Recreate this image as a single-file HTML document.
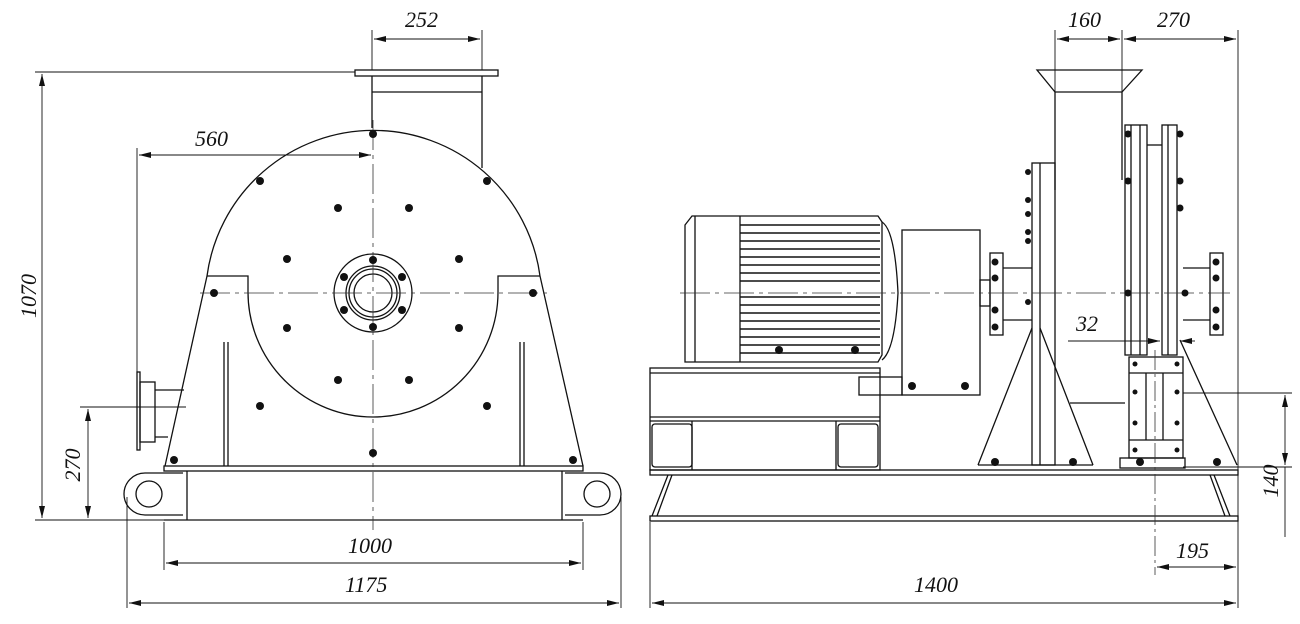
<!DOCTYPE html>
<html><head><meta charset="utf-8"><style>
html,body{margin:0;padding:0;background:#fff;width:1300px;height:624px;overflow:hidden}
text{font-family:"Liberation Serif",serif;font-style:italic;font-size:22px;fill:#111}
</style></head><body>
<svg width="1300" height="624" viewBox="0 0 1300 624" xmlns="http://www.w3.org/2000/svg">
<defs>
<marker id="a" viewBox="0 0 12 6" refX="12" refY="3" markerWidth="12" markerHeight="6" orient="auto-start-reverse" markerUnits="userSpaceOnUse"><path d="M0,0L12,3L0,6z" fill="#111"/></marker>
</defs>
<g fill="none" stroke="#111" stroke-width="1.3">
<rect x="355" y="70" width="143" height="6"/>
<line x1="372" y1="76" x2="372" y2="128"/><line x1="482" y1="76" x2="482" y2="168"/>
<line x1="372" y1="92" x2="482" y2="92"/>
<path d="M207,276 A168,168 0 0 1 540,276"/>
<path d="M207,276 L165,466 M540,276 L583,466"/>
<path d="M207,276 H248 V292 A124,124 0 0 0 498,292 V276 H540"/>
<line x1="224" y1="342" x2="224" y2="466"/><line x1="228" y1="342" x2="228" y2="466"/>
<line x1="520" y1="342" x2="520" y2="466"/><line x1="524" y1="342" x2="524" y2="466"/>
<rect x="164" y="466" width="419" height="5"/>
<line x1="187" y1="471" x2="187" y2="520"/><line x1="562" y1="471" x2="562" y2="520"/>
<line x1="164" y1="520" x2="583" y2="520"/>
<path d="M183,473 H145 A21,21 0 0 0 145,515 H183"/>
<path d="M565,473 H600 A21,21 0 0 1 600,515 H565"/>
<circle cx="149" cy="494" r="13"/><circle cx="597" cy="494" r="13"/>
<rect x="137" y="372" width="3" height="78"/>
<rect x="140" y="382" width="15" height="60"/>
<path d="M155,390 H184 M155,437 H168"/>
<circle cx="373" cy="293" r="39"/><circle cx="373" cy="293" r="27"/><circle cx="373" cy="293" r="24"/><circle cx="373" cy="293" r="19"/>
<path d="M685,225 L692,216 H878 L882,222 V355 L878,362 H685 Z"/>
<line x1="695" y1="216" x2="695" y2="362"/><line x1="740" y1="216" x2="740" y2="362"/>
<path d="M882,222 Q895,230 898,293 Q895,350 882,360"/>
<rect x="902" y="230" width="78" height="165"/>
<rect x="859" y="377" width="43" height="18"/>
<rect x="650" y="368" width="230" height="102"/>
<line x1="650" y1="373" x2="880" y2="373"/><line x1="650" y1="417" x2="880" y2="417"/><line x1="650" y1="421" x2="880" y2="421"/>
<rect x="652" y="424" width="40" height="43" rx="3"/><rect x="838" y="424" width="40" height="43" rx="3"/>
<line x1="692" y1="421" x2="692" y2="470"/><line x1="836" y1="421" x2="836" y2="470"/>
<rect x="650" y="470" width="588" height="5"/>
<rect x="650" y="516" width="588" height="5"/>
<path d="M652,516 L668,475 M657,516 L672,475 M1230,516 L1214,475 M1225,516 L1210,475"/>
<path d="M1037,70 H1142 L1122,92 H1055 Z"/>
<line x1="1055" y1="92" x2="1055" y2="190"/><line x1="1122" y1="92" x2="1122" y2="180"/>
<rect x="1032" y="163" width="23" height="302"/><line x1="1040" y1="163" x2="1040" y2="465"/>
<path d="M978,465 L1032,328 M1093,465 L1040,328 M1180,340 L1237,465"/>
<line x1="978" y1="465" x2="1093" y2="465"/>
<line x1="1070" y1="403" x2="1125" y2="403"/>
<rect x="1125" y="125" width="22" height="230"/><line x1="1131" y1="125" x2="1131" y2="355"/><line x1="1140" y1="125" x2="1140" y2="355"/>
<rect x="1162" y="125" width="15" height="230"/><line x1="1168" y1="125" x2="1168" y2="355"/>
<line x1="1147" y1="145" x2="1162" y2="145"/>
<rect x="1129" y="357" width="54" height="101"/>
<line x1="1129" y1="373" x2="1183" y2="373"/><line x1="1129" y1="440" x2="1183" y2="440"/>
<line x1="1146" y1="373" x2="1146" y2="440"/><line x1="1163" y1="373" x2="1163" y2="440"/>
<rect x="1120" y="458" width="65" height="10"/>
<rect x="990" y="253" width="13" height="82"/><rect x="1210" y="253" width="13" height="82"/>
<path d="M1003,268 H1032 M1003,320 H1032 M1183,268 H1210 M1183,320 H1210"/>
<rect x="980" y="280" width="10" height="26"/>
</g>
<g stroke="#111" stroke-width="1.6">
<line x1="740" y1="225" x2="880" y2="225"/><line x1="740" y1="233" x2="880" y2="233"/><line x1="740" y1="241" x2="880" y2="241"/><line x1="740" y1="249" x2="880" y2="249"/><line x1="740" y1="257" x2="880" y2="257"/><line x1="740" y1="265" x2="880" y2="265"/><line x1="740" y1="273" x2="880" y2="273"/><line x1="740" y1="281" x2="880" y2="281"/><line x1="740" y1="297" x2="880" y2="297"/><line x1="740" y1="305" x2="880" y2="305"/><line x1="740" y1="313" x2="880" y2="313"/><line x1="740" y1="321" x2="880" y2="321"/><line x1="740" y1="329" x2="880" y2="329"/><line x1="740" y1="337" x2="880" y2="337"/><line x1="740" y1="345" x2="880" y2="345"/><line x1="740" y1="353" x2="880" y2="353"/>
</g>
<g stroke="#333" stroke-width="0.8" fill="none">
<line x1="200" y1="293" x2="550" y2="293" stroke-dasharray="30,5,4,5"/>
<line x1="373" y1="120" x2="373" y2="530" stroke-dasharray="30,5,4,5"/>
<line x1="680" y1="293" x2="1230" y2="293" stroke-dasharray="30,5,4,5"/>
<line x1="1155" y1="350" x2="1155" y2="575" stroke-dasharray="20,4,3,4"/>
</g>
<g fill="#111">
<circle cx="373" cy="134" r="4"/><circle cx="260" cy="181" r="4"/><circle cx="487" cy="181" r="4"/><circle cx="338" cy="208" r="4"/><circle cx="409" cy="208" r="4"/>
<circle cx="287" cy="259" r="4"/><circle cx="459" cy="259" r="4"/><circle cx="214" cy="293" r="4"/><circle cx="533" cy="293" r="4"/>
<circle cx="287" cy="328" r="4"/><circle cx="459" cy="328" r="4"/><circle cx="338" cy="380" r="4"/><circle cx="409" cy="380" r="4"/>
<circle cx="260" cy="406" r="4"/><circle cx="487" cy="406" r="4"/><circle cx="373" cy="453" r="4"/>
<circle cx="373" cy="260" r="4"/><circle cx="344" cy="277" r="4"/><circle cx="402" cy="277" r="4"/><circle cx="344" cy="310" r="4"/><circle cx="402" cy="310" r="4"/><circle cx="373" cy="327" r="4"/>
<circle cx="174" cy="460" r="4"/><circle cx="573" cy="460" r="4"/>
<circle cx="912" cy="386" r="4"/><circle cx="965" cy="386" r="4"/>
<circle cx="779" cy="350" r="4"/><circle cx="855" cy="350" r="4"/>
<circle cx="995" cy="262" r="3.5"/><circle cx="995" cy="278" r="3.5"/><circle cx="995" cy="310" r="3.5"/><circle cx="995" cy="327" r="3.5"/>
<circle cx="1216" cy="262" r="3.5"/><circle cx="1216" cy="278" r="3.5"/><circle cx="1216" cy="310" r="3.5"/><circle cx="1216" cy="327" r="3.5"/>
<circle cx="1028" cy="172" r="3"/><circle cx="1028" cy="200" r="3"/><circle cx="1028" cy="214" r="3"/><circle cx="1028" cy="232" r="3"/><circle cx="1028" cy="241" r="3"/><circle cx="1028" cy="302" r="3"/>
<circle cx="1128" cy="134" r="3.5"/><circle cx="1180" cy="134" r="3.5"/><circle cx="1128" cy="181" r="3.5"/><circle cx="1180" cy="181" r="3.5"/><circle cx="1180" cy="208" r="3.5"/><circle cx="1128" cy="293" r="3.5"/><circle cx="1185" cy="293" r="3.5"/>
<circle cx="995" cy="462" r="4"/><circle cx="1073" cy="462" r="4"/><circle cx="1140" cy="462" r="4"/><circle cx="1217" cy="462" r="4"/>
<circle cx="1135" cy="364" r="2.5"/><circle cx="1177" cy="364" r="2.5"/><circle cx="1135" cy="392" r="2.5"/><circle cx="1177" cy="392" r="2.5"/><circle cx="1135" cy="423" r="2.5"/><circle cx="1177" cy="423" r="2.5"/><circle cx="1135" cy="450" r="2.5"/><circle cx="1177" cy="450" r="2.5"/>
</g>
<g stroke="#111" stroke-width="0.9" fill="none">
<line x1="35" y1="72" x2="355" y2="72"/><line x1="35" y1="520" x2="165" y2="520"/>
<line x1="42" y1="74" x2="42" y2="518" marker-start="url(#a)" marker-end="url(#a)"/>
<line x1="80" y1="407" x2="186" y2="407"/>
<line x1="88" y1="409" x2="88" y2="518" marker-start="url(#a)" marker-end="url(#a)"/>
<line x1="137" y1="148" x2="137" y2="372"/>
<line x1="139" y1="155" x2="371" y2="155" marker-start="url(#a)" marker-end="url(#a)"/>
<line x1="372" y1="30" x2="372" y2="70"/><line x1="482" y1="30" x2="482" y2="70"/>
<line x1="374" y1="39" x2="480" y2="39" marker-start="url(#a)" marker-end="url(#a)"/>
<line x1="164" y1="522" x2="164" y2="570"/><line x1="583" y1="522" x2="583" y2="570"/>
<line x1="166" y1="563" x2="581" y2="563" marker-start="url(#a)" marker-end="url(#a)"/>
<line x1="127" y1="497" x2="127" y2="608"/><line x1="621" y1="497" x2="621" y2="608"/>
<line x1="129" y1="603" x2="619" y2="603" marker-start="url(#a)" marker-end="url(#a)"/>
<line x1="650" y1="522" x2="650" y2="608"/><line x1="1238" y1="30" x2="1238" y2="608"/>
<line x1="652" y1="603" x2="1236" y2="603" marker-start="url(#a)" marker-end="url(#a)"/>
<line x1="1055" y1="30" x2="1055" y2="92"/><line x1="1122" y1="30" x2="1122" y2="92"/>
<line x1="1057" y1="39" x2="1120" y2="39" marker-start="url(#a)" marker-end="url(#a)"/>
<line x1="1124" y1="39" x2="1236" y2="39" marker-start="url(#a)" marker-end="url(#a)"/>
<line x1="1157" y1="567" x2="1236" y2="567" marker-start="url(#a)" marker-end="url(#a)"/>
<line x1="1183" y1="393" x2="1292" y2="393"/><line x1="1183" y1="467" x2="1292" y2="467"/>
<line x1="1285" y1="395" x2="1285" y2="465" marker-start="url(#a)" marker-end="url(#a)"/>
<line x1="1285" y1="467" x2="1285" y2="537"/>
<line x1="1068" y1="341" x2="1145" y2="341"/><line x1="1145" y1="341" x2="1160" y2="341" marker-end="url(#a)"/><line x1="1195" y1="341" x2="1180" y2="341" marker-end="url(#a)"/>
</g>
<text x="405" y="27">252</text>
<text x="195" y="146">560</text>
<text x="348" y="553">1000</text>
<text x="345" y="592">1175</text>
<text transform="translate(36,296) rotate(-90)" text-anchor="middle">1070</text>
<text transform="translate(80,465) rotate(-90)" text-anchor="middle">270</text>
<text x="1068" y="27">160</text>
<text x="1157" y="27">270</text>
<text x="1076" y="331">32</text>
<text x="1176" y="558">195</text>
<text x="914" y="592">1400</text>
<text transform="translate(1278,481) rotate(-90)" text-anchor="middle">140</text>
</svg>
</body></html>
